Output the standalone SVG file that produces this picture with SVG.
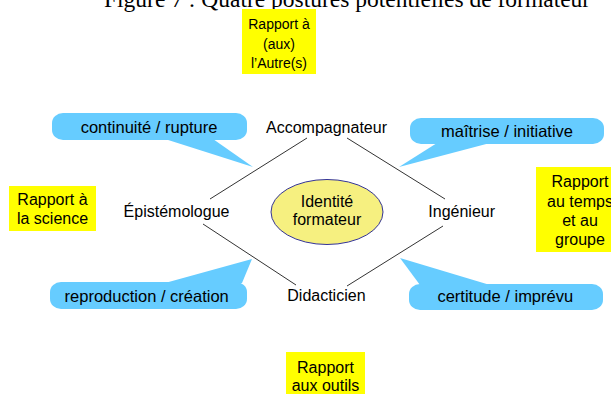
<svg xmlns="http://www.w3.org/2000/svg" width="611" height="394" viewBox="0 0 611 394">
  <style>
    .title { font-family: "Liberation Serif", "Times New Roman", serif; font-size: 23.5px; fill: #000; }
    .t { font-family: "Liberation Sans", Arial, sans-serif; fill: #000; text-anchor: middle; }
    .s14 { font-size: 14px; }
    .s16 { font-size: 16px; }
    .s165 { font-size: 16.5px; }
    .box { fill: #ffff00; }
    .bubble { fill: #66ccff; }
    .edge { stroke: #333; stroke-width: 1; fill: none; }
    .core { fill: #f6f080; stroke: #333399; stroke-width: 1; }
  </style>

  <!-- caption (partly above the top edge) -->
  <text class="title" x="104" y="7">Figure 7 : Quatre postures potentielles de formateur</text>

  <!-- connectors: the four sides of the diamond -->
  <g id="connectors">
    <line class="edge" x1="307" y1="138" x2="210" y2="199"/>
    <line class="edge" x1="347" y1="138" x2="445" y2="199"/>
    <line class="edge" x1="203" y1="224" x2="296" y2="285"/>
    <line class="edge" x1="443" y1="226" x2="347" y2="286"/>
  </g>

  <!-- centre -->
  <g id="identite">
    <ellipse class="core" cx="327" cy="212" rx="56" ry="32.5"/>
    <text class="t s16" x="327" y="206.5">Identité</text>
    <text class="t s16" x="327" y="225">formateur</text>
  </g>

  <!-- postures -->
  <g id="accompagnateur"><text class="t s16" x="326.5" y="133">Accompagnateur</text></g>
  <g id="epistemologue"><text class="t s16" x="176.5" y="216.7">Épistémologue</text></g>
  <g id="ingenieur"><text class="t s16" x="461.7" y="217.3">Ingénieur</text></g>
  <g id="didacticien"><text class="t s16" x="326.4" y="301">Didacticien</text></g>

  <!-- speech bubbles -->
  <g id="bulle-continuite">
    <rect class="bubble" x="52" y="113" width="195" height="27" rx="11" ry="10"/>
    <polygon class="bubble" points="165,139 213,139 253,167"/>
    <text class="t s165" x="149" y="133.3">continuité / rupture</text>
  </g>
  <g id="bulle-maitrise">
    <rect class="bubble" x="410" y="118" width="194" height="26" rx="11" ry="10"/>
    <polygon class="bubble" points="437,143 490,143 399,167"/>
    <text class="t s165" x="507" y="137.3">maîtrise / initiative</text>
  </g>
  <g id="bulle-reproduction">
    <rect class="bubble" x="50" y="282" width="197" height="27" rx="11" ry="10"/>
    <polygon class="bubble" points="165,283 242,283 252,259"/>
    <text class="t s165" x="146.7" y="301.7">reproduction / création</text>
  </g>
  <g id="bulle-certitude">
    <rect class="bubble" x="409" y="284" width="194" height="26" rx="11" ry="10"/>
    <polygon class="bubble" points="420,285 490,285 400,258"/>
    <text class="t s165" x="505.3" y="301.7">certitude / imprévu</text>
  </g>

  <!-- yellow relation labels -->
  <g id="rapport-autre">
    <rect class="box" x="242" y="9" width="74" height="65"/>
    <text class="t s14" x="279" y="28.5">Rapport à</text>
    <text class="t s14" x="279" y="48.5">(aux)</text>
    <text class="t s14" x="279" y="68.3">l’Autre(s)</text>
  </g>
  <g id="rapport-science">
    <rect class="box" x="9" y="186" width="87" height="45"/>
    <text class="t s16" x="52.5" y="205">Rapport à</text>
    <text class="t s16" x="52.5" y="224.3">la science</text>
  </g>
  <g id="rapport-temps">
    <rect class="box" x="536" y="167" width="90" height="85"/>
    <text class="t s16" x="580" y="187.3">Rapport</text>
    <text class="t s16" x="580" y="206.5">au temps</text>
    <text class="t s16" x="580" y="226">et au</text>
    <text class="t s16" x="580" y="245.3">groupe</text>
  </g>
  <g id="rapport-outils">
    <rect class="box" x="286" y="352" width="79" height="42"/>
    <text class="t s16" x="325.5" y="372.7">Rapport</text>
    <text class="t s16" x="325.5" y="391">aux outils</text>
  </g>
</svg>
